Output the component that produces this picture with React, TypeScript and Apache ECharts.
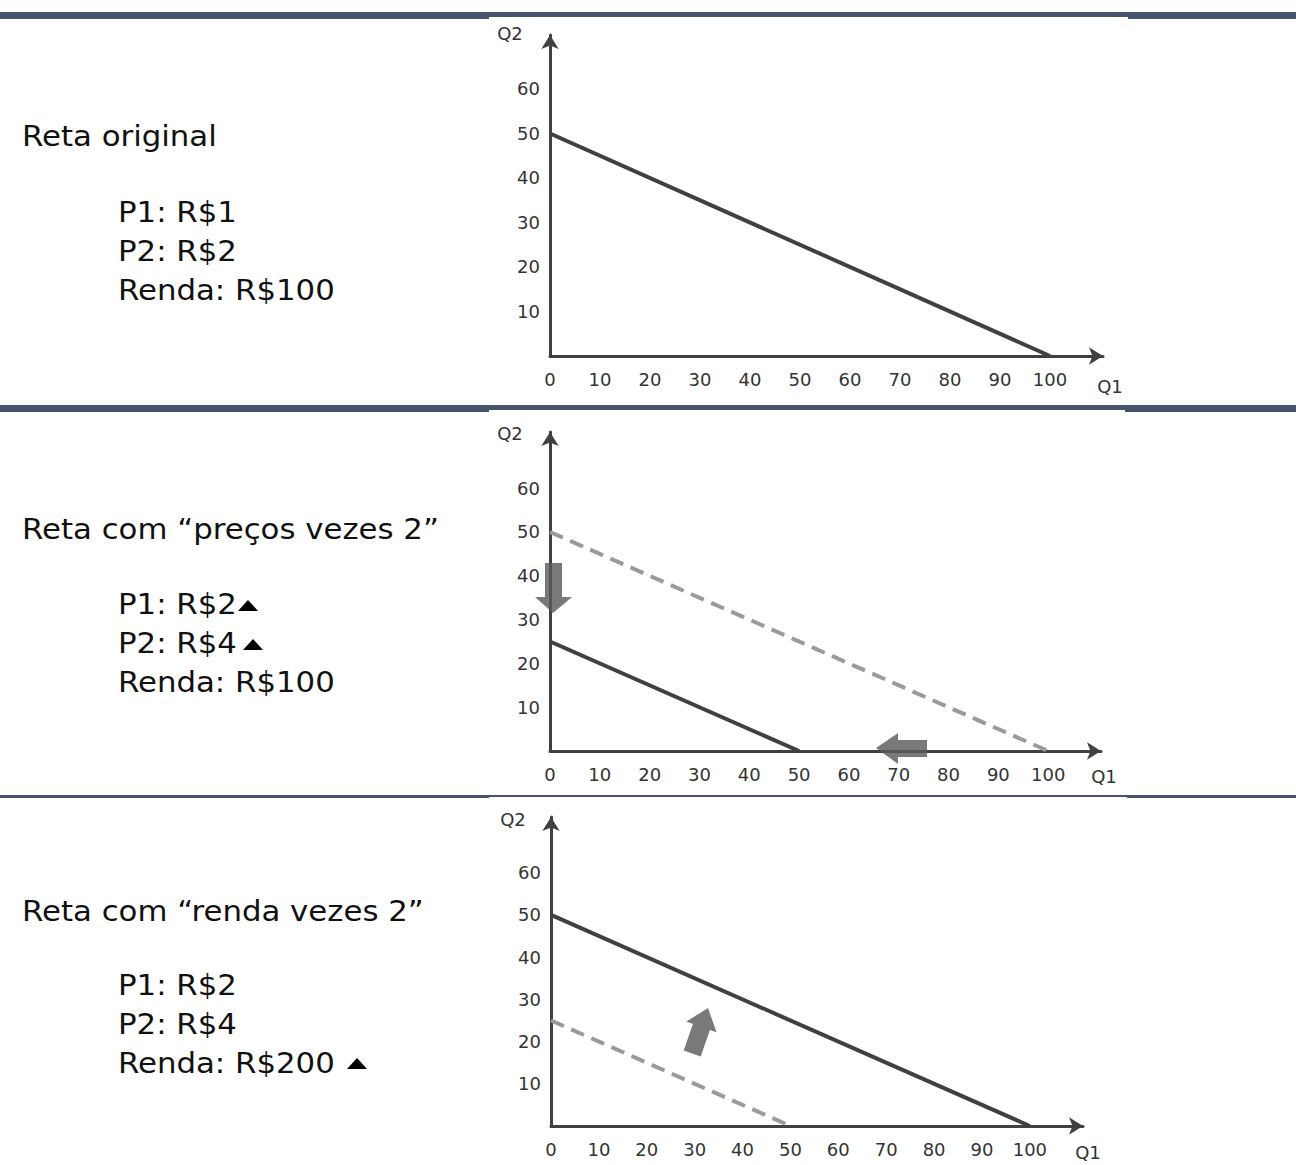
import React, { useEffect, useRef } from "react";
import * as echarts from "echarts";

// ---- data ----
const xTicks = [0, 10, 20, 30, 40, 50, 60, 70, 80, 90, 100];
const yTicks = [10, 20, 30, 40, 50, 60];

const originalLine = [[0, 50], [100, 0]]; // P1=1, P2=2, Renda=100
const pricesX2Line = [[0, 25], [50, 0]]; // P1=2, P2=4, Renda=100
const incomeX2Line = [[0, 50], [100, 0]]; // P1=2, P2=4, Renda=200

const panelTitles = ["Reta original", "Reta com “preços vezes 2”", "Reta com “renda vezes 2”"];
const panelLines = [
  ["P1: R$1", "P2: R$2", "Renda: R$100"],
  ["P1: R$2", "P2: R$4", "Renda: R$100"],
  ["P1: R$2", "P2: R$4", "Renda: R$200"],
];

// ---- layout (pixels) ----
const grids = [
  { left: 550, top: 35, width: 553, height: 321, xMax: 110.6, yMax: 72.13 },
  { left: 550, top: 432, width: 551, height: 319, xMax: 110.6, yMax: 72.83 },
  { left: 551, top: 817, width: 532, height: 309, xMax: 111.1, yMax: 73.2 },
];
const qLabels = [
  { q2: [510, 33], q1: [1110, 386] },
  { q2: [510, 433], q1: [1104, 776] },
  { q2: [513, 819], q1: [1088, 1152] },
];
const titleY = [136, 529, 911];
const lineYs = [[212, 251, 290], [604, 643, 682], [985, 1024, 1063]];

const AXIS = "#404040";
const BAND = "#44546a";
const FONT_AX = "DejaVu Sans";
const FONT_TX = "DejaVu Sans";

function tri(x: number, y: number, w: number, h: number) {
  return {
    type: "polygon",
    z: 100,
    shape: { points: [[x, y + h], [x + w / 2, y], [x + w, y + h]] },
    style: { fill: "#000" },
  };
}

export default function App() {
  const ref = useRef<HTMLDivElement>(null);
  useEffect(() => {
    if (!ref.current) return;
    const chart = echarts.init(ref.current, null, { renderer: "svg" });

    const xAxis = grids.map((g, i) => ({
      type: "value",
      gridIndex: i,
      min: 0,
      max: g.xMax,
      axisLine: {
        show: true,
        symbol: ["none", "arrow"],
        symbolSize: [13, 14],
        lineStyle: { color: AXIS, width: 3 },
      },
      axisTick: { show: false },
      splitLine: { show: false },
      axisLabel: {
        customValues: xTicks,
        margin: 14,
        fontFamily: FONT_AX,
        fontSize: 18,
        color: "#333",
      },
    }));
    const yAxis = grids.map((g, i) => ({
      type: "value",
      gridIndex: i,
      min: 0,
      max: g.yMax,
      axisLine: {
        show: true,
        symbol: ["none", "arrow"],
        symbolSize: [13, 14],
        lineStyle: { color: AXIS, width: 3 },
      },
      axisTick: { show: false },
      splitLine: { show: false },
      axisLabel: {
        customValues: yTicks,
        margin: 10,
        fontFamily: FONT_AX,
        fontSize: 18,
        color: "#333",
      },
    }));

    const solid = (data: number[][], i: number) => ({
      type: "line",
      xAxisIndex: i,
      yAxisIndex: i,
      data,
      showSymbol: false,
      symbol: "none",
      lineStyle: { color: AXIS, width: 4 },
      z: 5,
    });
    const dashed = (data: number[][], i: number) => ({
      type: "line",
      xAxisIndex: i,
      yAxisIndex: i,
      data,
      showSymbol: false,
      symbol: "none",
      lineStyle: { color: "#9a9a9a", width: 4, type: [14, 8] },
      z: 4,
    });

    const graphics: any[] = [
      // separators
      { type: "rect", shape: { x: 0, y: 12, width: 1296, height: 7 }, style: { fill: BAND }, z: 50 },
      { type: "rect", shape: { x: 489, y: 17, width: 639, height: 3 }, style: { fill: "#fff" }, z: 51 },
      { type: "rect", shape: { x: 0, y: 405, width: 1296, height: 7 }, style: { fill: BAND }, z: 50 },
      { type: "rect", shape: { x: 489, y: 410, width: 636, height: 3 }, style: { fill: "#fff" }, z: 51 },
      { type: "rect", shape: { x: 0, y: 795, width: 1296, height: 3 }, style: { fill: BAND }, z: 50 },
      { type: "rect", shape: { x: 489, y: 797, width: 638, height: 2 }, style: { fill: "#fff" }, z: 51 },
    ];

    panelTitles.forEach((t, i) => {
      graphics.push({
        type: "text",
        x: 22,
        y: titleY[i],
        scaleX: 1.1,
        style: { text: t, fontFamily: FONT_TX, fontSize: 28, fill: "#111", verticalAlign: "middle" },
      });
      panelLines[i].forEach((s, j) => {
        graphics.push({
          type: "text",
          x: 118,
          y: lineYs[i][j],
          scaleX: 1.1,
          style: { text: s, fontFamily: FONT_TX, fontSize: 28, fill: "#111", verticalAlign: "middle" },
        });
      });
      graphics.push({
        type: "text",
        x: qLabels[i].q2[0],
        y: qLabels[i].q2[1],
        style: { text: "Q2", fontFamily: FONT_AX, fontSize: 18, fill: "#333", align: "center", verticalAlign: "middle" },
      });
      graphics.push({
        type: "text",
        x: qLabels[i].q1[0],
        y: qLabels[i].q1[1],
        style: { text: "Q1", fontFamily: FONT_AX, fontSize: 18, fill: "#333", align: "center", verticalAlign: "middle" },
      });
    });

    // up triangles
    graphics.push(tri(238, 600, 20, 11));
    graphics.push(tri(243, 639, 20, 11));
    graphics.push(tri(347, 1058, 20, 11));

    // arrows
    const arrowStyle = { fill: "#5c5c5c", opacity: 0.82 };
    graphics.push({
      type: "polygon",
      z: 100,
      shape: { points: [[545, 563], [562, 563], [562, 597], [572, 597], [553, 613], [535, 597], [545, 597]] },
      style: arrowStyle,
    });
    graphics.push({
      type: "polygon",
      z: 100,
      shape: { points: [[927, 740], [898, 740], [898, 733], [876, 748], [898, 764], [898, 757], [927, 757]] },
      style: arrowStyle,
    });
    graphics.push({
      type: "polygon",
      z: 100,
      shape: {
        points: [
          [708, 1008],
          [716.5, 1032.2],
          [709.9, 1029.9],
          [700.7, 1056.4],
          [683.7, 1050.4],
          [692.9, 1023.9],
          [686.3, 1021.6],
        ],
      },
      style: arrowStyle,
    });

    chart.setOption({
      animation: false,
      backgroundColor: "#fff",
      grid: grids.map((g) => ({ left: g.left, top: g.top, width: g.width, height: g.height, containLabel: false })),
      xAxis,
      yAxis,
      series: [
        solid(originalLine, 0),
        dashed(originalLine, 1),
        solid(pricesX2Line, 1),
        dashed(pricesX2Line, 2),
        solid(incomeX2Line, 2),
      ],
      graphic: graphics,
    });
    return () => chart.dispose();
  }, []);
  return (
    <div
      ref={ref}
      style={{ position: "absolute", left: 0, top: 0, width: 1296, height: 1165 }}
    />
  );
}
